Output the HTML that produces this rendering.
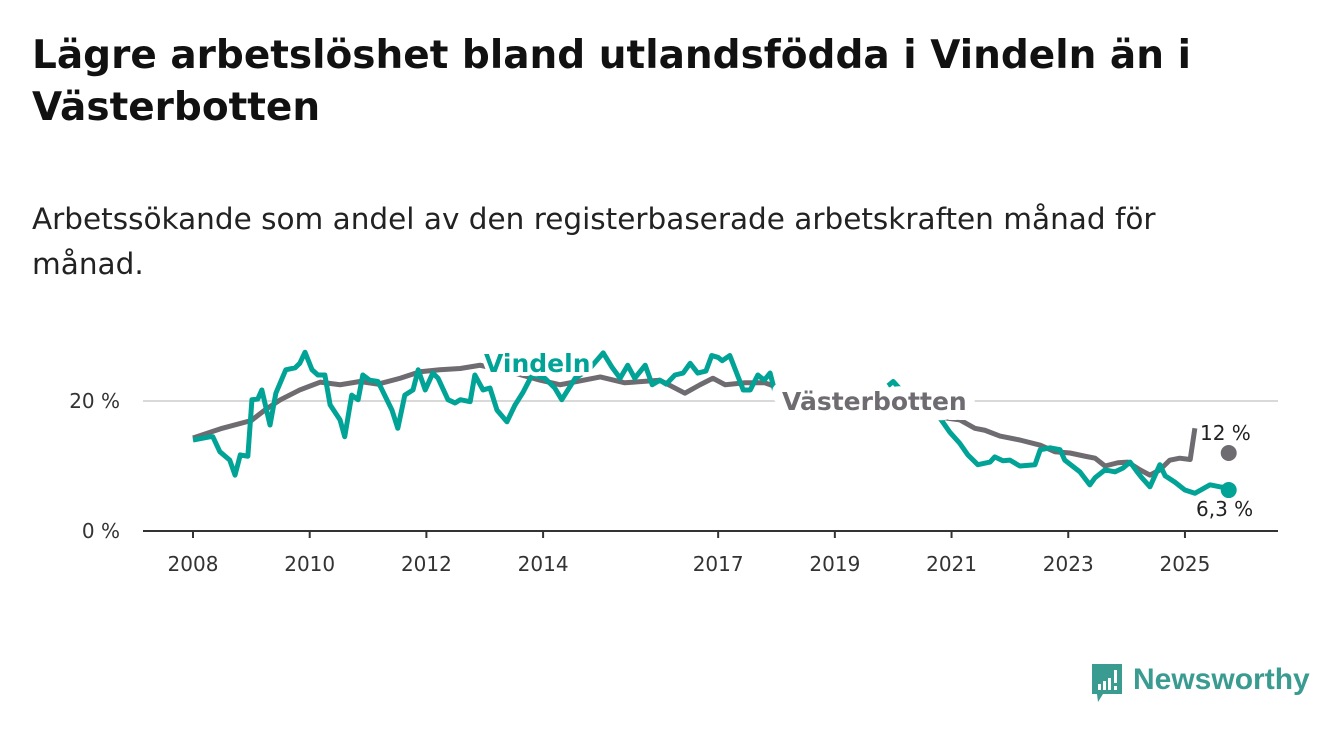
<!DOCTYPE html>
<html><head><meta charset="utf-8">
<style>
html,body{margin:0;padding:0;background:#fff;}
body{width:1340px;height:734px;position:relative;overflow:hidden;font-family:"DejaVu Sans","Liberation Sans",sans-serif;color:#111;}
h1{position:absolute;left:32px;top:30px;margin:0;font-size:39px;line-height:52px;font-weight:bold;width:1210px;color:#111;}
.sub{position:absolute;left:32px;top:197px;margin:0;font-size:29.5px;line-height:45px;width:1190px;color:#222;}
svg{position:absolute;left:0;top:0;}
</style></head><body>
<h1>Lägre arbetslöshet bland utlandsfödda i Vindeln än i Västerbotten</h1>
<p class="sub">Arbetssökande som andel av den registerbaserade arbetskraften månad för månad.</p>
<svg id="chart" width="1340" height="734"></svg>
<div style="position:absolute;left:1089px;top:662px;width:230px;height:44px;">
  <svg width="36" height="42" style="position:absolute;left:0;top:0">
    <path d="M3 2 H33 V32 H14 L9 40 L8 32 H3 Z" fill="#3a9b91"/>
    <rect x="9" y="22" width="3" height="6" fill="#fff"/><rect x="14" y="19" width="3" height="9" fill="#fff"/>
    <rect x="19" y="16" width="3" height="12" fill="#fff"/><rect x="25" y="8" width="3" height="13" fill="#fff"/><rect x="25" y="24" width="3" height="4" fill="#fff"/>
  </svg>
  <span style="position:absolute;left:44px;top:1px;font-family:'Liberation Sans',sans-serif;font-size:30px;font-weight:bold;color:#3a9b91;">Newsworthy</span>
</div>
<script>
const yTicks=[0,20];
const yTickLabels=["0 %","20 %"];
const xTicks=[2008,2010,2012,2014,2017,2019,2021,2023,2025];
const grayDates=[2008.0,2008.5,2009.0,2009.23,2009.5,2009.83,2010.18,2010.52,2010.86,2011.17,2011.55,2011.89,2012.23,2012.58,2012.92,2013.43,2013.95,2014.29,2014.98,2015.4,2016.0,2016.43,2016.69,2016.91,2017.12,2017.46,2017.8,2018.2,2018.8,2019.4,2020.0,2020.5,2020.89,2021.14,2021.4,2021.57,2021.83,2022.17,2022.52,2022.77,2023.03,2023.29,2023.46,2023.63,2023.85,2024.02,2024.23,2024.4,2024.57,2024.74,2024.91,2025.09,2025.17];
const grayValues=[14.3,15.8,17,18.6,20.2,21.7,22.9,22.5,23.0,22.6,23.5,24.5,24.8,25,25.5,24.5,23.2,22.5,23.7,22.8,23.2,21.2,22.5,23.5,22.5,22.8,22.8,21.5,20.5,19.8,19,18.3,17.4,17.1,15.8,15.5,14.6,14,13.2,12.2,12,11.5,11.2,10,10.5,10.6,9.4,8.6,9.4,10.9,11.2,11.0,15.8];
const tealOffsets=[0,.29,.34,.46,.63,.72,.81,.94,1.01,1.11,1.18,1.32,1.42,1.59,1.75,1.83,1.92,2.04,2.14,2.26,2.35,2.52,2.60,2.72,2.83,2.91,3.03,3.17,3.41,3.51,3.63,3.77,3.86,3.98,4.11,4.20,4.37,4.49,4.58,4.75,4.83,4.97,5.09,5.21,5.38,5.52,5.66,5.81,6.03,6.20,6.32,6.55,6.80,7.03,7.18,7.32,7.45,7.57,7.75,7.87,8.00,8.11,8.26,8.40,8.52,8.65,8.79,8.89,9.00,9.07,9.20,9.43,9.55,9.68,9.79,9.89,9.99,10.3,10.6,11.0,11.3,11.6,12.0,12.3,12.6,12.80,12.97,13.14,13.28,13.45,13.66,13.74,13.88,14.00,14.17,14.43,14.52,14.69,14.86,14.94,15.20,15.37,15.46,15.63,15.80,15.94,16.06,16.18,16.26,16.40,16.57,16.66,16.83,17.00,17.17,17.43,17.60,17.74];
const tealValues=[14,14.5,14.5,12.2,10.9,8.6,11.7,11.5,20.2,20.3,21.7,16.3,21.2,24.8,25.1,25.8,27.5,24.8,24,24,19.4,17.1,14.5,20.9,20.2,24,23.2,23,18.6,15.8,20.9,21.7,24.8,21.7,24.3,23.5,20.2,19.7,20.2,19.9,24,21.7,22,18.6,16.8,19.4,21.4,24,23.5,22,20.2,23.5,25,27.4,25.2,23.5,25.5,23.5,25.5,22.5,23.2,22.6,24,24.3,25.8,24.3,24.6,27,26.7,26.2,27,21.7,21.7,24,23.2,24.3,20.8,18,20,22,18,20,23,20,21,17.4,15.2,13.5,11.7,10.2,10.6,11.4,10.8,10.9,10,10.2,12.5,12.8,12.5,10.9,9.1,7.1,8.2,9.4,9.1,9.7,10.6,9.1,8.2,6.8,10.2,8.5,7.5,6.3,5.8,7.1,6.8,6.6];
const lastDate=2025.75;
const lastGray=12, lastTeal=6.3;

const svg=document.getElementById('chart');
const NS='http://www.w3.org/2000/svg';
const X=d=>193+(d-2008)*58.35;
const Y=v=>531-v*6.5;
function mk(tag,attrs,parent){const e=document.createElementNS(NS,tag);for(const k in attrs)e.setAttribute(k,attrs[k]);(parent||svg).appendChild(e);return e;}

yTicks.forEach((t,i)=>{
  if(t!==0){const g=mk('line',{x1:143,x2:1278,y1:Y(t),y2:Y(t),stroke:'#d9d9d9','stroke-width':2});
  
  }
  const l=mk('text',{x:120,y:Y(t)+7,'text-anchor':'end','font-size':20,fill:'#333'});
  l.textContent=yTickLabels[i];
  
  
});
const ax=mk('line',{x1:143,x2:1278,y1:531,y2:531,stroke:'#333','stroke-width':2});


xTicks.forEach(t=>{
  const tk=mk('line',{x1:X(t),x2:X(t),y1:531,y2:538,stroke:'#333','stroke-width':2});
  
  
  const l=mk('text',{x:X(t),y:571,'text-anchor':'middle','font-size':20,fill:'#333'});
  l.textContent=t;
  
  
});
const gp=mk('polyline',{points:grayDates.map((d,i)=>X(d)+','+Y(grayValues[i])).join(' '),fill:'none',stroke:'#6e6b71','stroke-width':5,'stroke-linejoin':'round'});


const tp=mk('polyline',{points:tealOffsets.map((o,i)=>X(2008+o)+','+Y(tealValues[i])).join(' '),fill:'none',stroke:'#00a396','stroke-width':5,'stroke-linejoin':'round'});


const gd=mk('circle',{cx:X(lastDate),cy:Y(lastGray),r:8,fill:'#6e6b71'});


const td=mk('circle',{cx:X(lastDate),cy:Y(lastTeal),r:8,fill:'#00a396'});


function label(txt,x,y,fill,size,bold,halo,name){
  const h=mk('text',{x:x,y:y,'font-size':size,'font-weight':bold?'bold':'normal',fill:'#fff',stroke:'#fff','stroke-width':halo,'stroke-linejoin':'round'});
  h.textContent=txt;
  
  
  const t=mk('text',{x:x,y:y,'font-size':size,'font-weight':bold?'bold':'normal',fill:fill});
  t.textContent=txt;
  
  
}
label('Vindeln',484,372,'#00a396',25,true,8,'vindeln-label');
label('Västerbotten',782,410,'#6e6b71',25,true,20,'vasterbotten-label');
label('12 %',1200,440,'#222',20,false,6,'vasterbotten-value-label');
label('6,3 %',1196,516,'#222',20,false,6,'vindeln-value-label');
</script>
</body></html>
